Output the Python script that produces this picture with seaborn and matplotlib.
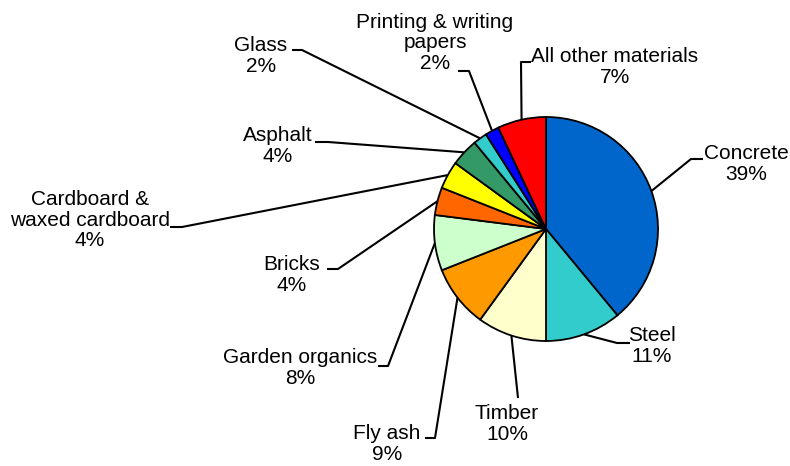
import numpy as np
import matplotlib
matplotlib.use("Agg")
import matplotlib.pyplot as plt
import seaborn as sns

materials = ["Concrete", "Steel", "Timber", "Fly ash", "Garden organics", "Bricks",
             "Cardboard &\nwaxed cardboard", "Asphalt", "Glass",
             "Printing & writing\npapers", "All other materials"]
shares = [39, 11, 10, 9, 8, 4, 4, 4, 2, 2, 7]
colors = ["#0066CC", "#33CCCC", "#FFFFCC", "#FF9900", "#CCFFCC", "#FF6600",
          "#FFFF00", "#339966", "#33CCCC", "#0000FF", "#FF0000"]

sns.set_theme(style="white")
plt.rcParams['font.family'] = ['Liberation Sans', 'DejaVu Sans']

W, H = 790, 466
fig = plt.figure(figsize=(W / 100, H / 100), dpi=100)
ax = fig.add_axes([0, 0, 1, 1])

# pie centre / radius in pixel space (y measured from top)
cx, cy, r = 546, 229, 112
wedges, _ = ax.pie(shares, colors=colors, startangle=90, counterclock=False,
                   center=(cx, H - cy), radius=r,
                   wedgeprops=dict(edgecolor="black", linewidth=1.3))
ax.set_xlim(0, W)
ax.set_ylim(0, H)
ax.set_aspect("equal")
ax.axis("off")

# label text centre, leader elbow (text end, bend point), pixel coords from top
layout = [
    ((746, 164), (703, 159), (691, 159)),
    ((652, 346), (630, 343), (617, 343)),
    ((507, 424), (518, 398), (518, 398)),
    ((387, 444), (425, 438), (435, 438)),
    ((300, 368), (378, 366), (388, 366)),
    ((292, 275), (327, 269), (338, 269)),
    ((90, 220), (170, 227), (182, 227)),
    ((278, 146), (315, 142), (328, 142)),
    ((261, 56), (292, 50), (302, 50)),
    ((435, 43), (458, 71), (469, 71)),
    ((615, 67), (531, 62), (521, 62)),
]

for w, name, pct, (tpos, p0, p1) in zip(wedges, materials, shares, layout):
    ang = np.deg2rad((w.theta1 + w.theta2) / 2)
    ex = cx + r * np.cos(ang)
    ey = H - cy + r * np.sin(ang)
    ax.plot([p0[0], p1[0], ex], [H - p0[1], H - p1[1], ey],
            color="black", lw=1.5, solid_capstyle="butt")
    ax.text(tpos[0], H - tpos[1], f"{name}\n{pct}%", ha="center", va="center",
            fontsize=15, linespacing=1.08, color="black")

fig.savefig("out.png", dpi=100)
